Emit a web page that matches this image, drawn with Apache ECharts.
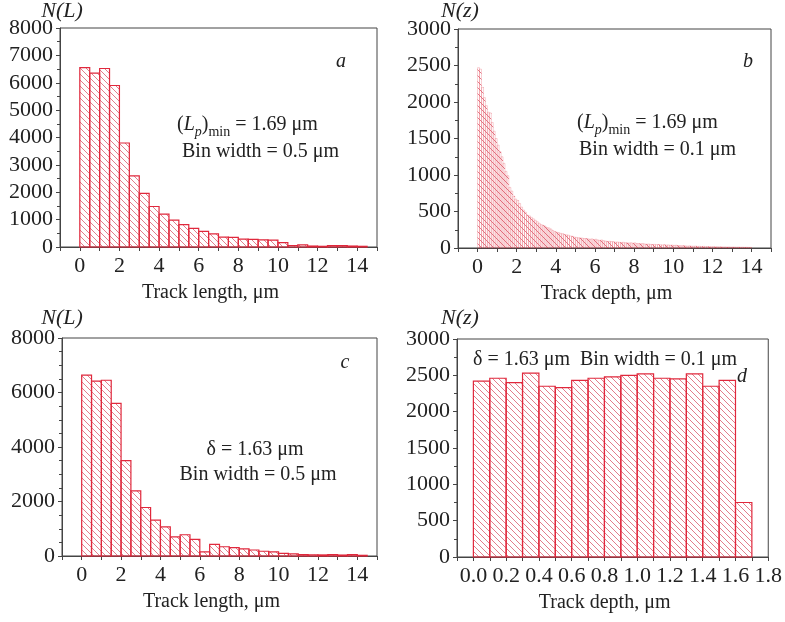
<!DOCTYPE html>
<html>
<head>
<meta charset="utf-8">
<title>Track histograms</title>
<script src="https://cdn.jsdelivr.net/npm/echarts@6/dist/echarts.min.js"></script>
<style>
  body { margin: 0; background: #fff; }
  #main { width: 785px; height: 622px; }
</style>
</head>
<body>
<div id="main"></div>
<script type="text/javascript">
// panel a: track length, bin 0.5 um
var binA = 0.5;
var countsA = [6550, 6350, 6520, 5900, 3800, 2600, 1960, 1480, 1200, 980, 820, 680, 570, 480, 360, 350, 290, 280, 260, 250, 160, 55, 80, 35, 25, 50, 50, 35, 25];
// panel b: track depth, bin 0.1 um
var binB = 0.1;
var countsB = [
  2470, 2450, 2200, 2060, 1950, 1860, 1850, 1720, 1600, 1500,
  1410, 1320, 1250, 1160, 1050, 990, 830, 780, 710, 670,
  650, 610, 560, 520, 490, 450, 440, 420, 400, 380,
  360, 340, 320, 310, 300, 280, 275, 260, 240, 225,
  215, 210, 200, 195, 185, 180, 175, 165, 160, 150,
  145, 140, 138, 135, 130, 130, 125, 120, 125, 115,
  120, 110, 105, 110, 100, 95, 90, 92, 88, 85,
  80, 82, 78, 75, 78, 72, 70, 68, 72, 65,
  70, 62, 60, 58, 62, 55, 52, 55, 50, 48,
  50, 46, 48, 44, 42, 45, 40, 42, 38, 40,
  36, 38, 34, 32, 30, 32, 28, 26, 28, 25,
  24, 26, 22, 23, 20, 22, 19, 20, 18, 17,
  18, 16, 17, 15, 16, 14, 15, 13, 14, 12,
  13, 12, 11, 12, 10, 11, 9, 10, 9, 8
];
// panel c: track length, bin 0.5 um
var binC = 0.5;
var countsC = [6640, 6420, 6450, 5600, 3500, 2390, 1780, 1320, 1070, 700, 780, 610, 150, 430, 340, 310, 260, 220, 175, 150, 100, 75, 50, 45, 40, 50, 35, 50, 25];
// panel d: track depth, bin 0.1 um
var binD = 0.1;
var countsD = [2420, 2460, 2400, 2530, 2350, 2330, 2430, 2460, 2480, 2500, 2520, 2460, 2450, 2520, 2350, 2430, 750];

var serif = 'Liberation Serif';
var ink = '#222';
var frame = '#444';

function hatch(color, gap) {
  var c = document.createElement('canvas');
  c.width = gap; c.height = gap;
  var g = c.getContext('2d');
  g.strokeStyle = color;
  g.lineWidth = 1;
  g.beginPath();
  g.moveTo(0, 0); g.lineTo(gap, gap);
  g.moveTo(-1, gap - 1); g.lineTo(1, gap + 1);
  g.moveTo(gap - 1, -1); g.lineTo(gap + 1, 1);
  g.stroke();
  return c;
}
var pat = hatch('rgba(215,70,90,0.7)', 6);

function histSeries(idx, counts, bw, stroke, lw) {
  return {
    type: 'custom',
    xAxisIndex: idx,
    yAxisIndex: idx,
    data: counts.map(function (v, i) { return [i * bw, (i + 1) * bw, v]; }),
    encode: { x: [0, 1], y: 2 },
    renderItem: function (params, api) {
      var p0 = api.coord([api.value(0), api.value(2)]);
      var p1 = api.coord([api.value(1), 0]);
      return {
        type: 'rect',
        shape: { x: p0[0], y: p0[1], width: p1[0] - p0[0], height: p1[1] - p0[1] },
        style: { fill: { image: pat, repeat: 'repeat' }, stroke: stroke, lineWidth: lw }
      };
    }
  };
}

function xAxis(idx, min, max, step, every, name, fmt) {
  return {
    gridIndex: idx, type: 'value', min: min, max: max, interval: step,
    name: name, nameLocation: 'middle', nameGap: 36,
    nameTextStyle: { fontFamily: serif, fontSize: 20, color: ink, padding: [0, 16, 0, 0] },
    axisLine: { onZero: false, lineStyle: { color: frame } },
    axisTick: { length: 4, lineStyle: { color: frame } },
    splitLine: { show: false },
    axisLabel: {
      margin: 8, fontFamily: serif, fontSize: 22, color: ink,
      formatter: function (v) {
        var k = Math.round(v / step);
        if (v < -1e-9 || k % every !== 0) return '';
        return fmt(v);
      }
    }
  };
}

function yAxis(idx, max, step, minorSplit) {
  return {
    gridIndex: idx, type: 'value', min: 0, max: max, interval: step,
    axisLine: { show: true, onZero: false, lineStyle: { color: frame } },
    axisTick: { show: true, length: 4, lineStyle: { color: frame } },
    minorTick: { show: true, splitNumber: minorSplit, length: 3, lineStyle: { color: frame } },
    splitLine: { show: false },
    axisLabel: {
      margin: 7, fontFamily: serif, fontSize: 22, color: ink,
      formatter: function (v) { return String(v); }
    }
  };
}

function txt(x, y, text, align, rich) {
  return {
    type: 'text', x: x, y: y,
    style: {
      text: text, fill: ink, font: '20px "Liberation Serif"',
      align: align || 'left', verticalAlign: 'middle', rich: rich
    }
  };
}
var lpRich = {
  n: { fontFamily: serif, fontSize: 20, lineHeight: 28, verticalAlign: 'middle', color: ink },
  i: { fontFamily: serif, fontStyle: 'italic', fontSize: 20, lineHeight: 28, verticalAlign: 'middle', color: ink },
  is: { fontFamily: serif, fontStyle: 'italic', fontSize: 14, lineHeight: 14, verticalAlign: 'bottom', color: ink },
  s: { fontFamily: serif, fontSize: 14, lineHeight: 14, verticalAlign: 'bottom', color: ink }
};
var lpText = '{n|(}{i|L}{is|p}{n|)}{s|min}{n| = 1.69 μm}';
function italic(x, y, text, size) {
  return {
    type: 'text', x: x, y: y,
    style: { text: text, fill: ink, font: 'italic ' + (size || 20) + 'px "Liberation Serif"', align: 'center', verticalAlign: 'middle' }
  };
}

var chart = echarts.init(document.getElementById('main'));
chart.setOption({
  animation: false,
  grid: [
    { left: 60, top: 28, width: 317, height: 219, show: true, borderColor: frame, borderWidth: 1 },
    { left: 458, top: 29, width: 313, height: 219, show: true, borderColor: frame, borderWidth: 1 },
    { left: 62, top: 338, width: 315, height: 218, show: true, borderColor: frame, borderWidth: 1 },
    { left: 457, top: 339, width: 314, height: 218, show: true, borderColor: frame, borderWidth: 1 }
  ],
  xAxis: [
    xAxis(0, -1, 15, 1, 2, 'Track length, μm', function (v) { return String(v); }),
    xAxis(1, -1, 15, 1, 2, 'Track depth, μm', function (v) { return String(v); }),
    xAxis(2, -1, 15, 1, 2, 'Track length, μm', function (v) { return String(v); }),
    xAxis(3, -0.1, 1.8, 0.1, 2, 'Track depth, μm', function (v) { return v.toFixed(1); })
  ],
  yAxis: [
    yAxis(0, 8000, 1000, 2),
    yAxis(1, 3000, 500, 2),
    yAxis(2, 8000, 2000, 4),
    yAxis(3, 3000, 500, 2)
  ],
  series: [
    histSeries(0, countsA, binA, '#e0283c', 1.2),
    histSeries(1, countsB, binB, 'rgba(224,40,60,0.45)', 0.5),
    histSeries(2, countsC, binC, '#e0283c', 1.2),
    histSeries(3, countsD, binD, '#e0283c', 1.2)
  ],
  graphic: [
    italic(62, 11, 'N(L)', 22),
    italic(460, 11, 'N(z)', 22),
    italic(62, 318, 'N(L)', 22),
    italic(460, 318, 'N(z)', 22),
    italic(341, 62, 'a'),
    italic(748, 62, 'b'),
    italic(345, 363, 'c'),
    italic(742, 377, 'd'),
    txt(177, 125, lpText, 'left', lpRich),
    txt(182, 152, 'Bin width = 0.5 μm'),
    txt(577, 123, lpText, 'left', lpRich),
    txt(579, 150, 'Bin width = 0.1 μm'),
    txt(255, 450, 'δ = 1.63 μm', 'center'),
    txt(258, 475, 'Bin width = 0.5 μm', 'center'),
    txt(605, 360, 'δ = 1.63 μm  Bin width = 0.1 μm', 'center')
  ]
});
</script>
</body>
</html>
